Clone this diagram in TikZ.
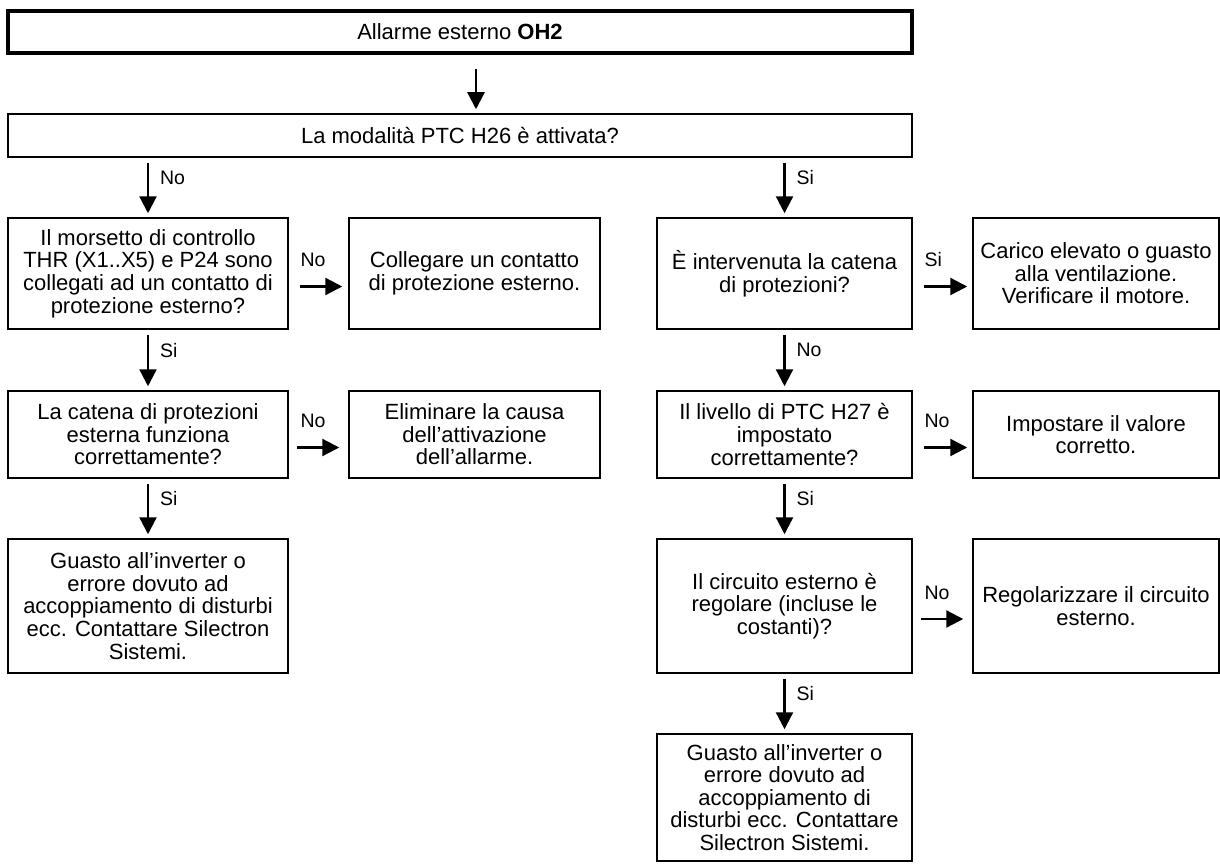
\documentclass[tikz,border=0pt]{standalone}
\usepackage{fontspec}
\setmainfont{Liberation Sans}
\usetikzlibrary{arrows.meta}
\begin{document}
\begin{tikzpicture}[x=1pt,y=-1pt,
  cell/.style={draw, line width=1.5pt, rectangle, inner sep=0pt, align=center,
    font=\fontsize{22}{22.6}\selectfont},
  flow/.style={line width=2.3pt, -{Triangle[length=17pt,width=17pt]},
    shorten <=5pt, shorten >=4pt},
  lbl/.style={inner sep=0pt, font=\fontsize{19.5}{20}\selectfont},
  vlbl/.style={lbl, pos=0.34, anchor=west, xshift=11pt},
  hlbl/.style={lbl, pos=0.18, anchor=base west, yshift=20pt},
]
\useasboundingbox (0,0) rectangle (1220,864);

% header and first question
\node[cell, line width=4pt, minimum width=904pt, minimum height=42pt] (T) at (460,32)
  {Allarme esterno \textbf{OH2}};
\node[cell, minimum width=904pt, minimum height=43pt] (Q) at (460,135.5)
  {La modalità PTC H26 è attivata?};

% left branch
\node[cell, minimum width=280pt, minimum height=111pt] (A) at (148,273.5)
  {Il morsetto di controllo\\THR (X1..X5) e P24 sono\\collegati ad un contatto di\\protezione esterno?};
\node[cell, minimum width=251pt, minimum height=111pt] (B) at (474.5,273.5)
  {Collegare un contatto\\di protezione esterno.};
\node[cell, minimum width=280pt, minimum height=87pt] (C) at (148,434.5)
  {La catena di protezioni\\esterna funziona\\correttamente?};
\node[cell, minimum width=251pt, minimum height=87pt] (D) at (474.5,434.5)
  {Eliminare la causa\\dell’attivazione\\dell’allarme.};
\node[cell, minimum width=280pt, minimum height=134pt] (E) at (148,606)
  {Guasto all’inverter o\\errore dovuto ad\\accoppiamento di disturbi\\ecc. Contattare Silectron\\Sistemi.};

% right branch
\node[cell, minimum width=255pt, minimum height=111pt] (F) at (784.5,273.5)
  {È intervenuta la catena\\di protezioni?};
\node[cell, minimum width=246pt, minimum height=111pt] (G) at (1096,273.5)
  {Carico elevato o guasto\\alla ventilazione.\\Verificare il motore.};
\node[cell, minimum width=255pt, minimum height=87pt] (H) at (784.5,434.5)
  {Il livello di PTC H27 è\\impostato\\correttamente?};
\node[cell, minimum width=246pt, minimum height=87pt] (I) at (1096,434.5)
  {Impostare il valore\\corretto.};
\node[cell, minimum width=255pt, minimum height=134pt] (J) at (784.5,606)
  {Il circuito esterno è\\regolare (incluse le\\costanti)?};
\node[cell, minimum width=246pt, minimum height=134pt] (L) at (1096,606)
  {Regolarizzare il circuito\\esterno.};
\node[cell, minimum width=255pt, minimum height=127pt] (K) at (784.5,797.5)
  {Guasto all’inverter o\\errore dovuto ad\\accoppiamento di\\disturbi ecc. Contattare\\Silectron Sistemi.};

% vertical connectors
\draw[flow, shorten <=14pt] ([xshift=16pt]T.south) -- ([xshift=16pt]Q.north);
\draw[flow] (Q.south -| A.north) -- (A.north) node[vlbl] {No};
\draw[flow] (A.south) -- (C.north) node[vlbl] {Si};
\draw[flow] (C.south) -- (E.north) node[vlbl] {Si};
\draw[flow] (Q.south -| F.north) -- (F.north) node[vlbl] {Si};
\draw[flow] (F.south) -- (H.north) node[vlbl] {No};
\draw[flow] (H.south) -- (J.north) node[vlbl] {Si};
\draw[flow] (J.south) -- (K.north) node[vlbl] {Si};

% horizontal connectors
\draw[flow, shorten <=11pt, shorten >=6pt] ([yshift=-13pt]A.east) -- ([yshift=-13pt]A.east -| B.west) node[hlbl] {No};
\draw[flow, shorten <=8pt, shorten >=9pt] ([yshift=-13pt]C.east) -- ([yshift=-13pt]C.east -| D.west) node[hlbl] {No};
\draw[flow, shorten <=11pt, shorten >=5pt] ([yshift=-13pt]F.east) -- ([yshift=-13pt]F.east -| G.west) node[hlbl] {Si};
\draw[flow, shorten <=11pt, shorten >=5pt] ([yshift=-13pt]H.east) -- ([yshift=-13pt]H.east -| I.west) node[hlbl] {No};
\draw[flow, shorten <=8pt, shorten >=9pt] ([yshift=-13pt]J.east) -- ([yshift=-13pt]J.east -| L.west) node[hlbl] {No};
\end{tikzpicture}
\end{document}
